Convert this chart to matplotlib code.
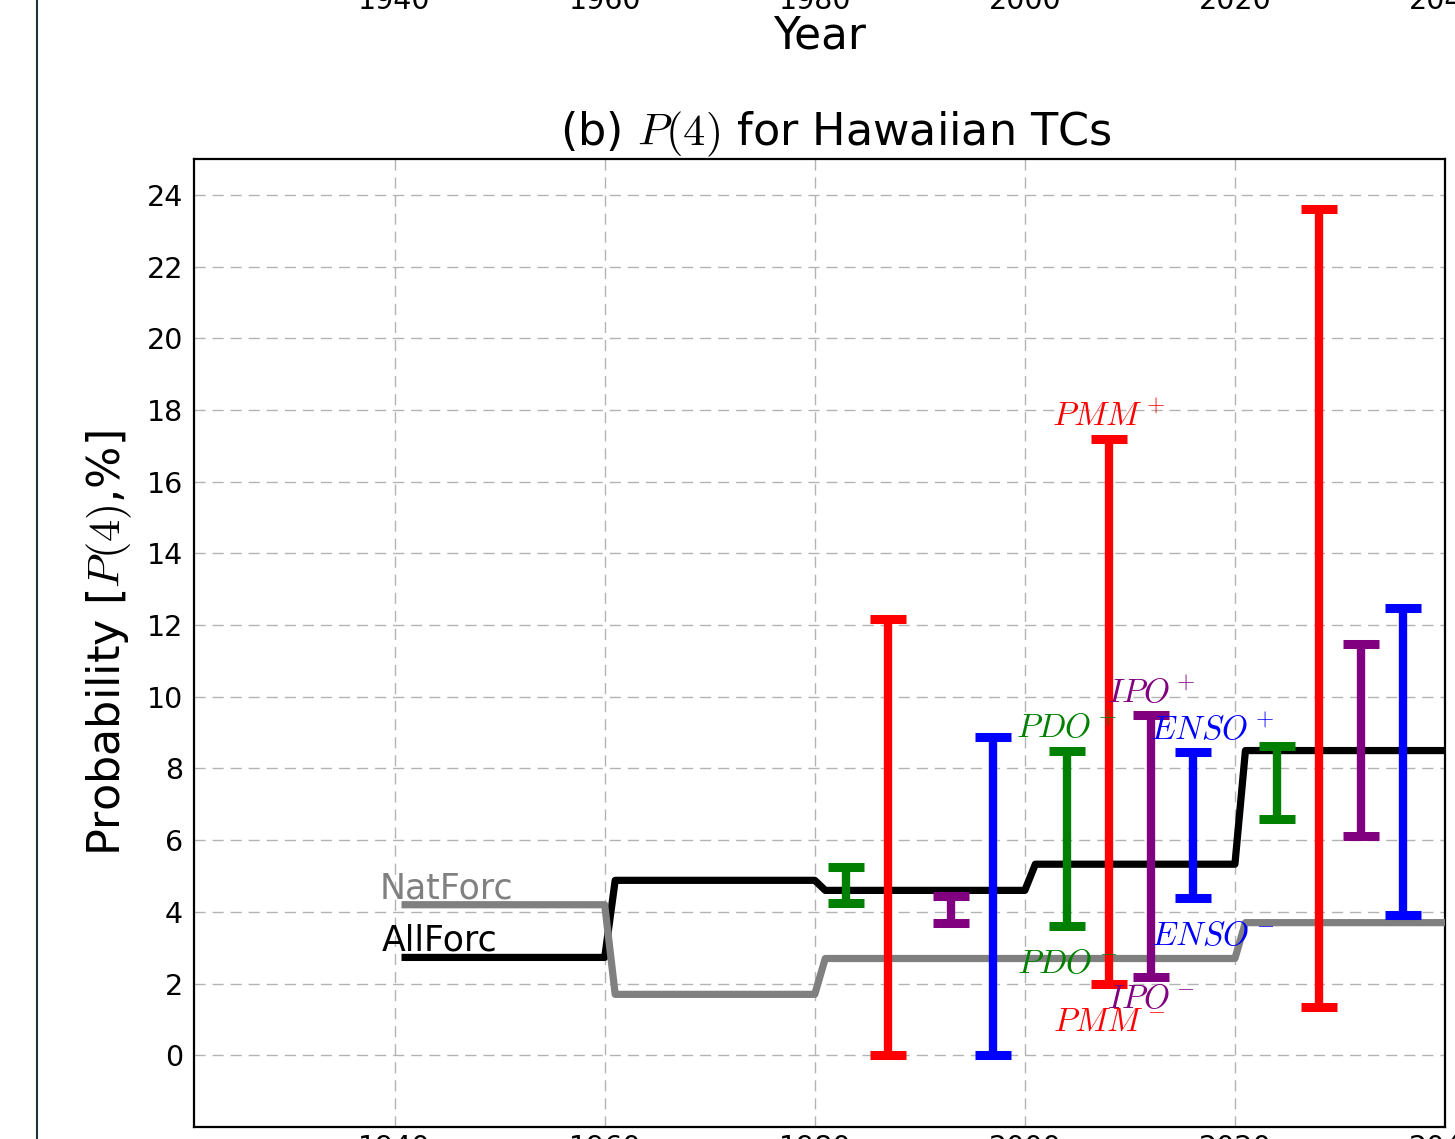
import numpy as np
import matplotlib.pyplot as plt
from matplotlib.lines import Line2D

plt.rcParams['mathtext.fontset'] = 'cm'
plt.rcParams['font.family'] = 'DejaVu Sans'

# 20-year periods and the ensemble probability of P(4) in each
period_start = [1941, 1961, 1981, 2001, 2021]
period_end = [1960, 1980, 2000, 2020, 2040]
allforc = [2.73, 4.88, 4.60, 5.33, 8.50]
natforc = [4.20, 1.70, 2.70, 2.70, 3.70]

# conditional ranges for the climate modes
bar_year = [1983, 1987, 1993, 1997,
            2004, 2008, 2012, 2016,
            2024, 2028, 2032, 2036]
bar_low = [4.25, 0.0, 3.70, 0.0,
           3.62, 2.00, 2.17, 4.38,
           6.58, 1.35, 6.13, 3.90]
bar_high = [5.25, 12.18, 4.43, 8.89,
            8.50, 17.20, 9.48, 8.45,
            8.62, 23.60, 11.48, 12.48]
bar_color = ['green', 'red', 'purple', 'blue'] * 3
mode_names = ['PDO', 'PMM', 'IPO', 'ENSO']

xticks = [1940, 1960, 1980, 2000, 2020, 2040]
yticks = list(range(0, 25, 2))


def steps(starts, ends, vals):
    xs, ys = [], []
    for s, e, v in zip(starts, ends, vals):
        xs += [s, e]
        ys += [v, v]
    return np.array(xs), np.array(ys)


fig = plt.figure(figsize=(14.55, 11.39), dpi=100)
W, H = 1455.0, 1139.0
left, right = 194 / W, 1445 / W

# upper panel (only its bottom labels are on the page)
ax0 = fig.add_axes([left, 1 + 20 / H, right - left, 0.3])
ax0.set_xlim(1920.9, 2040)
ax0.set_xticks(xticks)
ax0.tick_params(labelsize=20.5, length=0, pad=5)
ax0.set_xlabel('Year', fontsize=31.5, labelpad=0)

ax = fig.add_axes([left, 12 / H, right - left, (1127 - 159) / H])
ax.set_xlim(1920.9, 2040)
ax.set_ylim(-2, 25)
ax.set_xticks(xticks)
ax.set_yticks(yticks)
ax.tick_params(labelsize=20.5, length=0, pad=8)
ax.tick_params(axis='x', pad=5)
ax.grid(True, color='0.7', linestyle=(0, (8, 5)), linewidth=1.0)
ax.set_axisbelow(True)
for sp in ax.spines.values():
    sp.set_linewidth(1.6)

xa, ya = steps(period_start, period_end, allforc)
xn, yn = steps(period_start, period_end, natforc)
ax.plot(xa, ya, color='black', lw=5.2, zorder=3)
ax.plot(xn, yn, color='gray', lw=5.2, zorder=3)
ax.text(1938.6, 4.38, 'NatForc', color='gray', fontsize=25)
ax.text(1938.8, 2.93, 'AllForc', color='black', fontsize=25)

for x, lo, hi, c in zip(bar_year, bar_low, bar_high, bar_color):
    ax.errorbar(x, (lo + hi) / 2, yerr=(hi - lo) / 2, fmt='none', ecolor=c,
                elinewidth=6, capsize=13, capthick=6.5, zorder=4)

# mode labels on the 2001-2020 group
shift = {'PDO': 0, 'PMM': 0, 'IPO': 0, 'ENSO': 14}
for i, name in enumerate(mode_names):
    j = 4 + i
    dx = shift[name]
    ax.annotate('$%s^+$' % name, (bar_year[j], bar_high[j]), xytext=(dx, 9),
                textcoords='offset points', ha='center', va='baseline',
                color=bar_color[j], fontsize=24, zorder=5)
    dy = -22 if name == 'IPO' else -34
    ax.annotate('$%s^-$' % name, (bar_year[j], bar_low[j]), xytext=(dx, dy),
                textcoords='offset points', ha='center', va='baseline',
                color=bar_color[j], fontsize=24, zorder=5)

ttl = ax.set_title('(b) $P(4)$ for Hawaiian TCs', fontsize=32, pad=5)
ttl.set_x(0.513)
ax.set_ylabel('Probability [$P(4)$,%]', fontsize=32, labelpad=9)

fig.add_artist(Line2D([37 / W, 37 / W], [0, 1], transform=fig.transFigure,
                      color='#1d3535', lw=1.5))

fig.savefig('out.png', dpi=100)
